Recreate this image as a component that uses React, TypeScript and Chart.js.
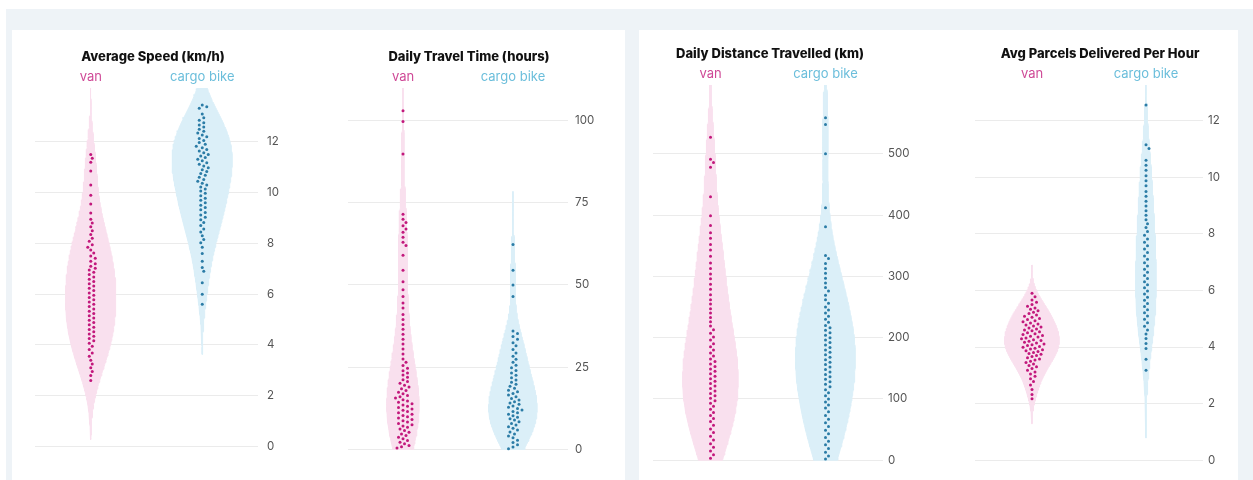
import React, { useEffect, useRef } from "react";
import { Chart, registerables } from "chart.js";
Chart.register(...registerables);

// ---------------- data ----------------
const groups = ["van", "cargo bike"];
const chartTitles = [
  "Average Speed (km/h)",
  "Daily Travel Time (hours)",
  "Daily Distance Travelled (km)",
  "Avg Parcels Delivered Per Hour",
];

const speedVan = [
  11.5, 11.35, 11.2, 10.85, 10.3, 9.9, 9.55, 9.2,
  8.95, 8.8, 8.65, 8.5, 8.35, 8.2, 8.08,
  7.95, 7.85, 7.74, 7.62, 7.5, 7.41, 7.3, 7.2, 7.1, 7.02,
  6.95, 6.86, 6.77, 6.68, 6.59, 6.5, 6.41, 6.32, 6.23, 6.14, 6.05,
  5.96, 5.87, 5.78, 5.69, 5.6, 5.51, 5.42, 5.33, 5.24, 5.15, 5.06,
  4.97, 4.88, 4.79, 4.7, 4.61, 4.52, 4.43, 4.34, 4.25, 4.16, 4.07,
  3.95, 3.82, 3.68, 3.55, 3.4, 3.25, 3.1, 2.95, 2.8, 2.6,
];
const speedCargo = [
  13.45, 13.38, 13.32, 13.1, 12.95,
  12.85, 12.75, 12.66, 12.58, 12.5, 12.42, 12.35, 12.27, 12.2, 12.13, 12.05,
  11.97, 11.9, 11.83, 11.77, 11.7, 11.64, 11.57, 11.5, 11.44, 11.38, 11.31, 11.25, 11.18, 11.12, 11.05,
  10.98, 10.9, 10.83, 10.75, 10.68, 10.6, 10.52, 10.45, 10.37, 10.3, 10.22, 10.14, 10.06,
  9.97, 9.88, 9.78, 9.7, 9.6, 9.5, 9.41, 9.32, 9.22, 9.12, 9.03,
  8.93, 8.82, 8.7, 8.57, 8.45, 8.3, 8.15, 8.02,
  7.85, 7.6, 7.3, 7.05, 6.9, 6.45, 6.0, 5.6,
];
const timeVan = [
  103, 99.7, 89.8,
  71.5, 70, 69, 68, 67, 66, 64.5, 63, 62,
  59, 54.5, 51, 48.5, 46.5, 44.5, 43, 41, 39.5, 38, 36.5, 35, 33.5, 32, 30.5, 29, 27.5, 26.5,
  25.5, 24.7, 23.9, 23.2, 22.6, 21.9, 21.2, 20.6, 20.1, 19.5, 19, 18.4, 17.9, 17.4, 16.9, 16.4,
  16, 15.6, 15.1, 14.7, 14.3, 13.9, 13.5, 13.1, 12.7, 12.3, 11.9, 11.5, 11.1, 10.7, 10.3, 9.9,
  9.5, 9.1, 8.7, 8.3, 7.9, 7.5, 7.1, 6.7, 6.2, 5.7, 5.2, 4.7, 4.2, 3.7, 3.2, 2.7, 2.2, 1.7,
  1.2, 0.8, 0.4,
];
const timeCargo = [
  62.3, 54.5, 50, 46.5,
  36, 35.2, 34.3, 33.5, 32.4, 31.5, 30.4, 29.3, 28.3, 27.4, 26.5, 25.6, 24.8, 24, 23.2, 22.5,
  21.8, 21.1, 20.4, 19.8, 19.2, 18.6, 18, 17.5, 17, 16.5, 16, 15.5, 15, 14.5, 14.1, 13.7, 13.2,
  12.8, 12.4, 12, 11.5, 11.1, 10.7, 10.2, 9.8, 9.3, 8.9, 8.4, 7.9, 7.4, 6.9, 6.4, 5.9, 5.3,
  4.7, 4.1, 3.5, 2.8, 2.1, 1.4, 0.7, 0.2,
];
const distVan = [
  527, 491, 486, 478, 430, 399, 383, 371, 362, 352, 343, 333, 322, 313, 304, 296, 287, 279,
  270, 262, 255, 247, 240, 233, 226, 219, 213, 207, 201, 196, 190, 185, 180, 175, 170, 165,
  161, 157, 153, 149, 145, 141, 137, 133, 129, 125, 121, 117, 113, 109, 105, 101, 97, 93, 88,
  83, 78, 73, 68, 63, 57, 51, 45, 39, 33, 27, 21, 15, 9, 3,
];
const distCargo = [
  559, 548, 500, 412, 381, 334, 329, 321, 313, 305, 297, 289, 282, 276, 269, 262, 256, 250,
  245, 240, 235, 230, 225, 220, 216, 212, 208, 204, 200, 196, 192, 188, 184, 180, 176, 172,
  168, 164, 160, 156, 152, 148, 144, 140, 136, 132, 128, 124, 120, 115, 110, 105, 100, 95,
  90, 85, 79, 73, 67, 61, 55, 49, 43, 37, 31, 25, 19, 13, 7, 2,
];
const parcelsVan = [
  5.9, 5.78, 5.66, 5.58, 5.5, 5.44, 5.38, 5.33, 5.28, 5.23, 5.18, 5.13, 5.09, 5.05, 5.01,
  4.97, 4.93, 4.89, 4.85, 4.81, 4.78, 4.74, 4.71, 4.67, 4.64, 4.6, 4.57, 4.54, 4.5, 4.47,
  4.44, 4.41, 4.38, 4.35, 4.32, 4.29, 4.26, 4.23, 4.2, 4.17, 4.14, 4.11, 4.08, 4.05, 4.02,
  3.99, 3.96, 3.93, 3.9, 3.87, 3.84, 3.81, 3.77, 3.74, 3.7, 3.66, 3.62, 3.58, 3.54, 3.5,
  3.45, 3.4, 3.35, 3.3, 3.24, 3.18, 3.12, 3.05, 2.97, 2.88, 2.78, 2.66, 2.5, 2.32, 2.17,
];
const parcelsCargo = [
  12.55, 11.15, 11.02, 10.6, 10.42, 10.25, 10.05, 9.88, 9.7, 9.5, 9.33, 9.15, 8.98, 8.82,
  8.66, 8.5, 8.36, 8.22, 8.08, 7.95, 7.82, 7.7, 7.58, 7.46, 7.34, 7.22, 7.1, 6.98, 6.86,
  6.75, 6.64, 6.53, 6.42, 6.31, 6.2, 6.09, 5.98, 5.87, 5.76, 5.65, 5.54, 5.43, 5.32, 5.21,
  5.1, 4.98, 4.86, 4.73, 4.6, 4.46, 4.3, 4.12, 3.95, 3.57, 3.18,
];

const speedTicks = [0, 2, 4, 6, 8, 10, 12];
const timeTicks = [0, 25, 50, 75, 100];
const distTicks = [0, 100, 200, 300, 400, 500];
const parcelTicks = [0, 2, 4, 6, 8, 10, 12];

// ---------------- style / layout ----------------
const DOT = ["#c2187c", "#2b7ca6"];
const FILL = ["#f9e0ee", "#dbeff8"];
const LABEL = ["#cf4a97", "#6bbedb"];
const CENTERS = [0.5, 1.5];
const FONT = "Inter, 'DejaVu Sans', sans-serif";

const PANELS = [
  { series: [speedVan, speedCargo], ticks: speedTicks, left: 16, width: 274, padL: 5, padR: 5, leftW: 14, axisW: 27, tickPad: 9, titleTop: 19.5, chartTop: 58, yMin: -0.694, yMax: 14.12, maxHW: 0.27 },
  { series: [timeVan, timeCargo], ticks: timeTicks, left: 333, width: 272, padL: 5, padR: 5, leftW: 10, axisW: 32, tickPad: 7, titleTop: 19.5, chartTop: 58, yMin: -5.09, yMax: 109.88, maxHW: 0.22 },
  { series: [distVan, distCargo], ticks: distTicks, left: 622, width: 296, padL: 5, padR: 5, leftW: 26, axisW: 30, tickPad: 5, titleTop: 16.5, chartTop: 55, yMin: -12.92, yMax: 612.3, maxHW: 0.26 },
  { series: [parcelsVan, parcelsCargo], ticks: parcelTicks, left: 965, width: 268, padL: 10, padR: 8, leftW: 0, axisW: 22, tickPad: 5, titleTop: 16.5, chartTop: 55, yMin: -0.28, yMax: 13.26, maxHW: 0.24 },
];
const TITLE_SIZE = 13;

// ---------------- helpers ----------------
function bandwidth(vals: number[]) {
  const n = vals.length;
  const mean = vals.reduce((a, b) => a + b, 0) / n;
  const sd = Math.sqrt(vals.reduce((a, v) => a + (v - mean) ** 2, 0) / (n - 1));
  return 1.06 * sd * Math.pow(n, -0.2);
}
function density(vals: number[], bw: number, y: number) {
  let sum = 0;
  for (const v of vals) {
    const z = (y - v) / bw;
    sum += Math.exp(-0.5 * z * z);
  }
  return sum / (vals.length * bw * Math.sqrt(2 * Math.PI));
}
function kdeProfile(vals: number[]) {
  const bw = bandwidth(vals);
  const mn = Math.min(...vals);
  const mx = Math.max(...vals);
  const lo = Math.max(0, mn - 2.3 * bw);
  const hi = mx + 2.6 * bw;
  const N = 160;
  const ys: number[] = [];
  for (let k = 0; k <= N; k++) ys.push(lo + ((hi - lo) * k) / N);
  const ds = ys.map((y) => density(vals, bw, y));
  return { ys, ds };
}
function outline(profile: { ys: number[]; ds: number[] }, center: number, k: number) {
  const right = profile.ys.map((y, i) => ({ x: center + profile.ds[i] * k, y }));
  const left = profile.ys.map((y, i) => ({ x: center - profile.ds[i] * k, y })).reverse();
  return [...right, ...left, right[0]];
}
function swarm(pix: number[], diam: number, step: number) {
  const order = pix.map((_, i) => i).sort((a, b) => pix[a] - pix[b]);
  const placed: { x: number; y: number }[] = [];
  const out = new Array(pix.length).fill(0);
  for (const i of order) {
    const y = pix[i];
    const near = placed.filter((p) => Math.abs(p.y - y) < diam);
    let k = 0;
    let x = 0;
    for (;;) {
      const cand = k === 0 ? 0 : (k % 2 ? 1 : -1) * Math.ceil(k / 2) * step;
      if (near.every((p) => (p.x - cand) ** 2 + (p.y - y) ** 2 >= diam * diam)) {
        x = cand;
        break;
      }
      k++;
    }
    placed.push({ x, y });
    out[i] = x;
  }
  return out;
}

// ---------------- components ----------------
function Panel({ idx }: { idx: number }) {
  const ref = useRef<HTMLCanvasElement | null>(null);
  const p = PANELS[idx];
  useEffect(() => {
    if (!ref.current) return;
    const profiles = p.series.map((s) => kdeProfile(s));
    const maxD = Math.max(...profiles.map((pr) => Math.max(...pr.ds)));
    const k = p.maxHW / maxD;
    const titleH = p.titleTop + TITLE_SIZE * 1.2;

    const pointSets = p.series.map((s, g) => ({
      type: "scatter" as const,
      data: s.map((v) => ({ x: CENTERS[g], y: v })),
      pointRadius: 1.5,
      pointHoverRadius: 1.5,
      pointBackgroundColor: DOT[g],
      pointBorderWidth: 0,
      showLine: false,
      order: 0,
    }));
    const violinSets = profiles.map((pr, g) => ({
      type: "line" as const,
      data: outline(pr, CENTERS[g], k),
      fill: "shape",
      backgroundColor: FILL[g],
      borderColor: FILL[g],
      borderWidth: 1,
      pointRadius: 0,
      tension: 0,
      order: 1,
    }));

    const scales: any = {
      x: {
        type: "linear",
        position: "top",
        min: 0,
        max: 2,
        grid: { display: false, drawTicks: false },
        border: { display: false },
        afterBuildTicks: (s: any) => {
          s.ticks = CENTERS.map((v) => ({ value: v }));
        },
        afterFit: (s: any) => {
          s.height = p.chartTop - titleH;
        },
        ticks: {
          padding: 3.2,
          autoSkip: false,
          maxRotation: 0,
          font: { family: FONT, size: 13, lineHeight: 1.2 },
          color: (c: any) => LABEL[c.index] || LABEL[0],
          callback: (_v: any, i: number) => groups[i],
        },
      },
      y: {
        type: "linear",
        position: "right",
        min: p.yMin,
        max: p.yMax,
        grid: { color: "#ebebeb", drawTicks: false, lineWidth: 1 },
        border: { display: false },
        afterBuildTicks: (s: any) => {
          s.ticks = p.ticks.map((v) => ({ value: v }));
        },
        afterFit: (s: any) => {
          s.width = p.axisW;
        },
        ticks: {
          padding: p.tickPad,
          color: "#555555",
          font: { family: FONT, size: 11.5 },
          callback: (v: any) => String(v),
        },
      },
      spacer: {
        type: "linear",
        position: "left",
        display: p.leftW > 0,
        grid: { display: false, drawTicks: false },
        border: { display: false },
        ticks: { display: false },
        afterFit: (s: any) => {
          s.width = p.leftW;
        },
      },
    };

    const chart = new Chart(ref.current, {
      type: "scatter",
      data: { datasets: [...pointSets, ...violinSets] as any },
      options: {
        responsive: true,
        maintainAspectRatio: false,
        animation: false,
        events: [],
        layout: { padding: { left: p.padL, right: p.padR, top: 0, bottom: 8 } },
        plugins: {
          legend: { display: false },
          tooltip: { enabled: false },
          title: {
            display: true,
            text: chartTitles[idx],
            color: "#111111",
            font: { family: FONT, size: TITLE_SIZE, weight: "800" as any, lineHeight: 1.2 },
            padding: { top: p.titleTop, bottom: 0 },
          },
        },
        scales,
      } as any,
    });

    const ys = chart.scales.y;
    const xs = chart.scales.x;
    const pxPerX = xs.getPixelForValue(1) - xs.getPixelForValue(0);
    p.series.forEach((s, g) => {
      const offs = swarm(s.map((v) => ys.getPixelForValue(v)), 4.0, 1.5);
      (chart.data.datasets[g] as any).data = s.map((v, i) => ({ x: CENTERS[g] + offs[i] / pxPerX, y: v }));
    });
    chart.update("none");

    return () => chart.destroy();
  }, [idx]);

  return (
    <div style={{ position: "absolute", left: p.left, top: 30, width: p.width, height: 450 }}>
      <canvas ref={ref} />
    </div>
  );
}

export default function App() {
  return (
    <div style={{ position: "fixed", left: 0, top: 0, width: 1253, height: 480, background: "#ffffff", overflow: "hidden" }}>
      <div style={{ position: "absolute", left: 6, top: 9, right: 0, bottom: 0, background: "#eef3f7" }} />
      <div style={{ position: "absolute", left: 12, top: 30, width: 613, height: 450, background: "#ffffff" }} />
      <div style={{ position: "absolute", left: 639, top: 30, width: 599, height: 450, background: "#ffffff" }} />
      {PANELS.map((_, i) => (
        <Panel key={i} idx={i} />
      ))}
    </div>
  );
}
